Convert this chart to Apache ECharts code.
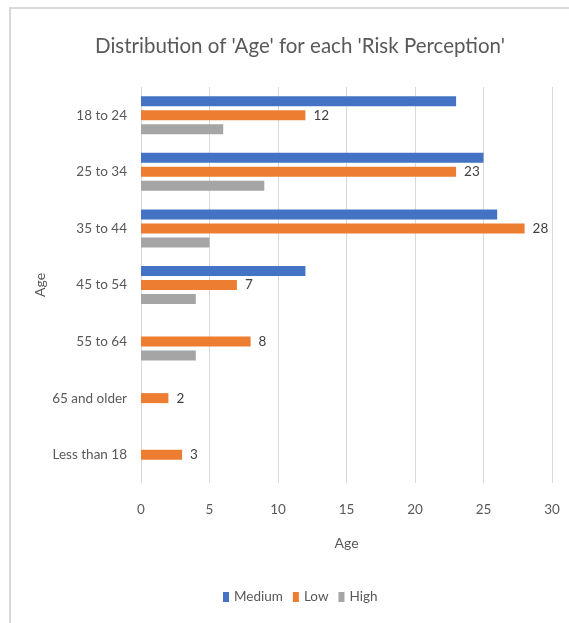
<!DOCTYPE html>
<html>
<head>
<meta charset="utf-8">
<style>
  html, body { margin: 0; padding: 0; background: #ffffff; }
  #chart { width: 569px; height: 623px; }
</style>
<script src="https://cdn.jsdelivr.net/npm/echarts@6/dist/echarts.min.js"></script>
</head>
<body>
<div id="chart"></div>
<script>
// Age groups, top to bottom
const ageGroups = ['18 to 24', '25 to 34', '35 to 44', '45 to 54', '55 to 64', '65 and older', 'Less than 18'];
// Counts per risk perception level (null = no respondents)
const mediumCounts = [23, 25, 26, 12, null, null, null];
const lowCounts = [12, 23, 28, 7, 8, 2, 3];
const highCounts = [6, 9, 5, 4, 4, null, null];
const xTicks = { min: 0, max: 30, step: 5 };

const FONT = 'Lato, "Open Sans", sans-serif';
const TEXT = '#595959';

const chart = echarts.init(document.getElementById('chart'), null, { renderer: 'canvas' });

chart.setOption({
  animation: false,
  backgroundColor: '#ffffff',
  graphic: [{
    type: 'rect',
    shape: { x: 10, y: 8, width: 620, height: 660 },
    style: { fill: 'none', stroke: '#d9d9d9', lineWidth: 2 },
    silent: true
  }],
  title: {
    text: "Distribution of 'Age' for each 'Risk Perception'",
    left: 295, top: 31, textAlign: 'center',
    textStyle: { fontFamily: FONT, fontSize: 20.5, fontWeight: 'normal', color: TEXT }
  },
  legend: {
    bottom: 14, left: 218,
    icon: 'rect', itemWidth: 6, itemHeight: 10, itemGap: 10,
    textStyle: { fontFamily: FONT, fontSize: 13.5, color: TEXT },
    data: ['Medium', 'Low', 'High']
  },
  grid: { left: 141, right: 17, top: 87, bottom: 140, containLabel: false },
  xAxis: {
    type: 'value', min: xTicks.min, max: xTicks.max, interval: xTicks.step,
    name: 'Age', nameLocation: 'middle', nameGap: 53, nameMoveOverlap: false,
    nameTextStyle: { fontFamily: FONT, fontSize: 14, color: TEXT },
    axisLine: { show: false }, axisTick: { show: false },
    axisLabel: { fontFamily: FONT, fontSize: 13.5, color: TEXT, margin: 20 },
    splitLine: { lineStyle: { color: '#d9d9d9', width: 1 } }
  },
  yAxis: {
    type: 'category', data: ageGroups, inverse: true,
    name: 'Age', nameLocation: 'middle', nameGap: 94, nameRotate: 90, nameMoveOverlap: false,
    nameTextStyle: { fontFamily: FONT, fontSize: 14, color: TEXT },
    axisLine: { show: false }, axisTick: { show: false },
    axisLabel: { fontFamily: FONT, fontSize: 13.5, color: TEXT, margin: 14 }
  },
  series: [
    { name: 'Medium', type: 'bar', data: mediumCounts, barWidth: 10, barGap: '40%',
      itemStyle: { color: '#4472c4' } },
    { name: 'Low', type: 'bar', data: lowCounts, barWidth: 10, barGap: '40%',
      itemStyle: { color: '#ed7d31' },
      label: { show: true, position: 'right', distance: 8, fontFamily: FONT, fontSize: 13.5, color: '#404040' } },
    { name: 'High', type: 'bar', data: highCounts, barWidth: 10, barGap: '40%',
      itemStyle: { color: '#a5a5a5' } }
  ]
});
</script>
</body>
</html>
